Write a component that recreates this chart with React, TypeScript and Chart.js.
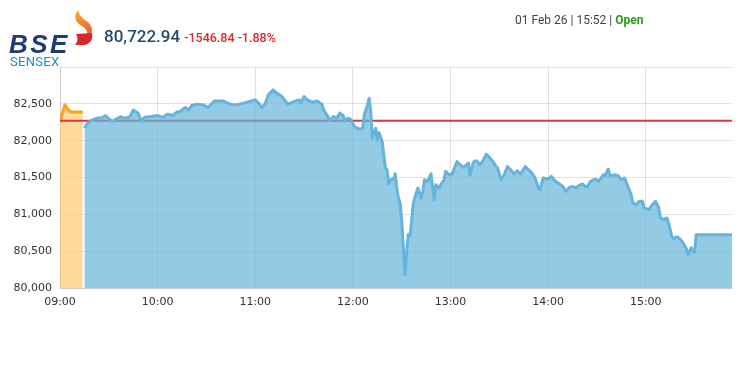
import React, { useEffect, useRef } from "react";
import { Chart, registerables } from "chart.js";

Chart.register(...registerables);

// ---- Data (minutes after 09:00, index values) ----
const preOpenTimes = [0, 3, 5, 7, 14];
const preOpenValues = [82260, 82486, 82420, 82388, 82388];

const sessionTimes = [
  15, 17, 20, 23, 26, 28, 30, 32, 35, 37, 40, 43, 45, 48, 50, 52, 56, 60, 63, 66,
  69, 72, 74, 77, 79, 81, 84, 88, 91, 95, 100, 104, 107, 110, 113, 116, 120, 122, 124, 126,
  128, 131, 133, 136, 138, 140, 143, 145, 147, 148, 150, 152, 155, 158, 161, 162, 164, 166, 168, 170,
  172, 174, 175, 177, 179, 181, 184, 186, 187, 189, 190, 191, 192, 194, 195, 196, 198, 200, 201, 202,
  203, 205, 206, 207, 208, 209, 210, 211, 212, 213, 214, 215, 216, 217, 218, 220, 222, 223, 224, 226,
  228, 230, 231, 233, 234, 236, 237, 239, 241, 244, 246, 248, 251, 252, 254, 256, 258, 260, 262, 264,
  266, 268, 269, 271, 273, 275, 277, 279, 281, 283, 286, 288, 290, 292, 294, 295, 297, 300, 302, 304,
  307, 309, 311, 313, 315, 317, 319, 321, 323, 324, 326, 329, 331, 334, 335, 337, 338, 341, 343, 345,
  347, 349, 351, 352, 354, 356, 358, 359, 362, 364, 366, 368, 369, 371, 373, 374, 376, 377, 379, 381,
  383, 385, 386, 388, 389, 390, 391, 413,
];
const sessionValues = [
  82170, 82238, 82283, 82306, 82315, 82342, 82297, 82260, 82297, 82324, 82306, 82324, 82415, 82374, 82260, 82319, 82328, 82342, 82315, 82360,
  82342, 82388, 82396, 82450, 82415, 82477, 82496, 82486, 82450, 82540, 82540, 82500, 82486, 82496, 82510, 82530, 82554, 82510, 82450, 82496,
  82622, 82690, 82645, 82608, 82554, 82496, 82523, 82540, 82554, 82510, 82599, 82554, 82523, 82540, 82496, 82419, 82351, 82270, 82328, 82306,
  82374, 82342, 82270, 82306, 82283, 82190, 82157, 82170, 82351, 82486, 82577, 82396, 82035, 82170, 82012, 82111, 81989, 81629, 81606, 81416,
  81470, 81480, 81551, 81358, 81222, 81155, 80928, 80566, 80183, 80477, 80725, 80702, 80883, 81131, 81222, 81358, 81222, 81312, 81470, 81447,
  81551, 81199, 81402, 81358, 81402, 81470, 81583, 81538, 81547, 81718, 81673, 81637, 81696, 81529, 81710, 81728, 81673, 81728, 81818, 81772,
  81718, 81650, 81628, 81470, 81538, 81650, 81606, 81547, 81592, 81547, 81650, 81606, 81561, 81493, 81358, 81335, 81493, 81480, 81515, 81457,
  81412, 81380, 81312, 81366, 81380, 81358, 81393, 81412, 81380, 81371, 81447, 81480, 81447, 81538, 81524, 81615, 81524, 81538, 81524, 81470,
  81493, 81380, 81267, 81155, 81131, 81176, 81176, 81086, 81064, 81131, 81176, 81086, 80951, 80928, 80951, 80883, 80702, 80667, 80694, 80667,
  80612, 80531, 80454, 80545, 80499, 80485, 80723, 80723,
];

const prevClose = 82269.78;
const xRange = [0, 413];
const yRange = [80000, 83000];
const yStep = 500;
const xStep = 60;

const lastValue = "80,722.94";
const changeText = "-1546.84 -1.88%";
const stampText = "01 Feb 26 | 15:52 | ";
const statusText = "Open";

function fmtTime(m: number) {
  const h = 9 + Math.floor(m / 60);
  const mm = m % 60;
  return String(h).padStart(2, "0") + ":" + String(mm).padStart(2, "0");
}

export default function App() {
  const ref = useRef<HTMLCanvasElement | null>(null);

  useEffect(() => {
    document.body.style.margin = "0";
    const canvas = ref.current;
    if (!canvas) return;
    const gridColor = "rgba(0,0,0,0.11)";
    const chart = new Chart(canvas, {
      type: "line",
      data: {
        datasets: [
          {
            label: "session",
            data: sessionTimes.map((t, i) => ({ x: t, y: sessionValues[i] })),
            borderColor: "#66b4dc",
            backgroundColor: "rgba(101,179,216,0.7)",
            borderWidth: 3,
            pointRadius: 0,
            fill: "start",
            tension: 0,
            borderJoinStyle: "round",
            order: 0,
          },
          {
            label: "prev",
            data: [
              { x: xRange[0], y: prevClose },
              { x: xRange[1], y: prevClose },
            ],
            borderColor: "#d8373c",
            borderWidth: 2,
            pointRadius: 0,
            fill: false,
            order: 1,
          },
          {
            label: "pre",
            data: preOpenTimes.map((t, i) => ({ x: t, y: preOpenValues[i] })),
            borderColor: "#f7a21e",
            backgroundColor: "rgba(252,196,100,0.65)",
            borderWidth: 3,
            pointRadius: 0,
            fill: "start",
            tension: 0,
            borderJoinStyle: "round",
            order: 2,
          },
        ],
      },
      options: {
        responsive: false,
        animation: false,
        devicePixelRatio: 1,
        layout: { padding: { left: 0, top: 67, right: 9, bottom: 0 } },
        plugins: { legend: { display: false }, tooltip: { enabled: false } },
        scales: {
          x: {
            type: "linear",
            min: xRange[0],
            max: xRange[1],
            afterFit: (s: any) => {
              s.height = 77;
            },
            afterBuildTicks: (s: any) => {
              s.ticks = s.ticks.filter((t: any) => t.value % xStep === 0);
            },
            ticks: {
              stepSize: xStep,
              includeBounds: false,
              autoSkip: false,
              maxRotation: 0,
              padding: 8,
              color: "#333",
              font: { family: "DejaVu Sans", size: 11 },
              callback: (v: any) => fmtTime(Number(v)),
            },
            grid: { color: gridColor, drawTicks: false },
            border: { color: gridColor },
          },
          y: {
            min: yRange[0],
            max: yRange[1],
            afterFit: (s: any) => {
              s.width = 60;
            },
            ticks: {
              stepSize: yStep,
              padding: 8,
              color: "#333",
              font: { family: "DejaVu Sans", size: 11 },
              callback: (v: any) =>
                Number(v) === yRange[1] ? "" : Number(v).toLocaleString("en-US"),
            },
            grid: { color: gridColor, drawTicks: false },
            border: { color: gridColor },
          },
        },
      },
    } as any);
    return () => chart.destroy();
  }, []);

  return (
    <div style={{ position: "relative", width: 741, height: 365, background: "#fff", overflow: "hidden" }}>
      <canvas ref={ref} width={741} height={365} style={{ position: "absolute", left: 0, top: 0, width: 741, height: 365 }} />
      {/* Logo */}
      <div
        style={{
          position: "absolute",
          left: 9,
          top: 29,
          fontFamily: "'Liberation Sans', Arial, sans-serif",
          fontWeight: 900,
          fontStyle: "italic",
          fontSize: 26,
          letterSpacing: 2.5,
          color: "#1f3a78",
          lineHeight: "30px",
        }}
      >
        BSE
      </div>
      <svg style={{ position: "absolute", left: 72, top: 8 }} width={24} height={40} viewBox="0 0 24 40">
        <defs>
          <linearGradient id="fl" x1="0" y1="0" x2="0" y2="1">
            <stop offset="0" stopColor="#fbb03b" />
            <stop offset="1" stopColor="#f15a24" />
          </linearGradient>
        </defs>
        <path d="M6,2 C1,8 3,14 10,18 C14,21 16,23 15,26 L19,26 C22,20 18,15 13,12 C9,9 7,6 6,2 Z" fill="url(#fl)" />
        <path d="M4,26 L20,25 C21,31 19,36 12,37 L3,37 C6,34 6,29 4,26 Z" fill="#d7282f" />
      </svg>
      <div
        style={{
          position: "absolute",
          left: 10,
          top: 54,
          fontFamily: "Roboto, sans-serif",
          fontSize: 13,
          letterSpacing: 0.3,
          color: "#1b8dd5",
          lineHeight: "16px",
        }}
      >
        SENSEX
      </div>
      {/* Value */}
      <div
        style={{
          position: "absolute",
          left: 104,
          top: 25,
          fontFamily: "Roboto, sans-serif",
          whiteSpace: "nowrap",
          lineHeight: "22px",
        }}
      >
        <span style={{ fontSize: 17, fontWeight: 500, color: "#1f4b6e" }}>{lastValue}</span>
        <span style={{ fontSize: 12.5, fontWeight: 500, color: "#e1262c", marginLeft: 4 }}>{changeText}</span>
      </div>
      {/* Stamp */}
      <div
        style={{
          position: "absolute",
          left: 515,
          top: 12,
          fontFamily: "Roboto, sans-serif",
          fontSize: 12,
          color: "#444",
          whiteSpace: "nowrap",
          lineHeight: "16px",
        }}
      >
        {stampText}
        <span style={{ color: "#2c9c17", fontWeight: 700 }}>{statusText}</span>
      </div>
    </div>
  );
}
